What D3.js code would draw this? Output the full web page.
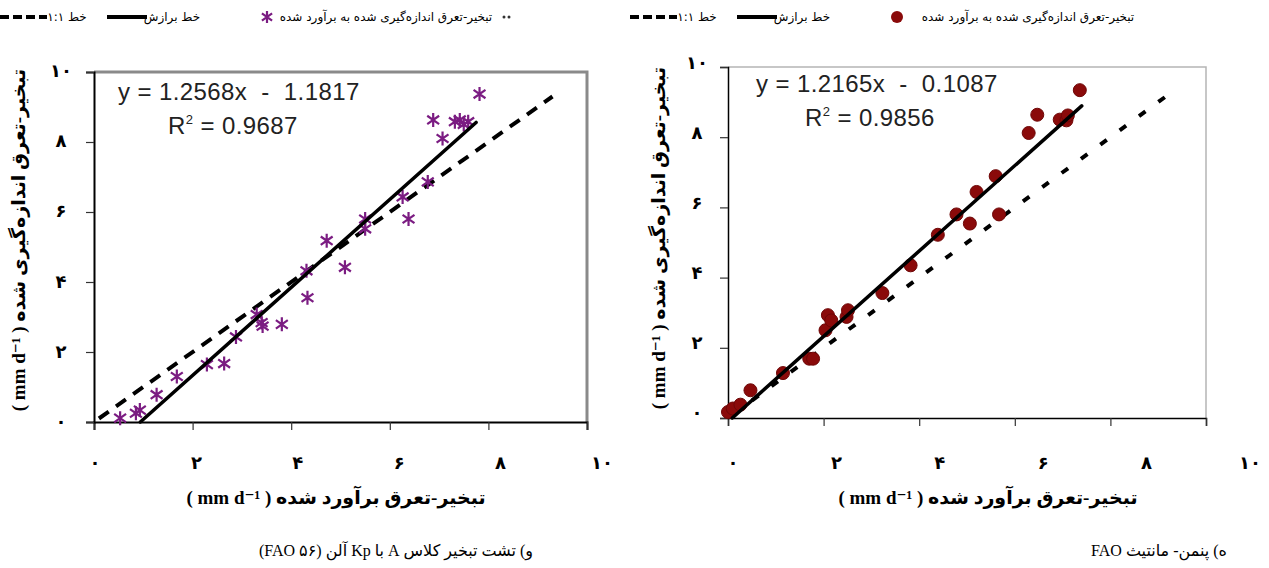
<!DOCTYPE html>
<html>
<head>
<meta charset="utf-8">
<script src="https://cdn.jsdelivr.net/npm/d3@7"></script>
<style>
  body { margin: 0; background: #fff; }
  svg { display: block; }
  .fa { font-family: "DejaVu Sans", sans-serif; }
  .eq { font-family: "Liberation Sans", Arial, sans-serif; fill: #222; }
</style>
</head>
<body>
<svg id="chart" width="1269" height="568"></svg>
<script>
// tick labels (Persian digits)
const tickVals   = [0, 2, 4, 6, 8, 10];
const tickLabels = ["۰", "۲", "۴", "۶", "۸", "۱۰"];

// panel (و) class A pan, Kp Allen : estimated vs measured
const panX = [0.53, 0.85, 0.93, 1.27, 1.68, 2.29, 2.64, 2.88, 3.30, 3.40, 3.42, 3.81, 4.31, 4.33,
              4.72, 5.09, 5.50, 5.50, 6.26, 6.38, 6.77, 6.88, 7.07, 7.32, 7.42, 7.50, 7.59, 7.82];
const panY = [0.11, 0.25, 0.34, 0.78, 1.30, 1.64, 1.67, 2.43, 3.07, 2.84, 2.74, 2.79, 4.32, 3.55,
              5.18, 4.42, 5.80, 5.52, 6.43, 5.80, 6.86, 8.63, 8.10, 8.58, 8.63, 8.50, 8.58, 9.37];
const panFit = { slope: 1.2568, icpt: -1.1817, r2: "0.9687", from: 0.94, to: 7.75 };
const panOne = [0.1, 9.3];

// panel (ه) FAO Penman-Monteith
const pmX = [0.00, 0.10, 0.26, 0.47, 1.15, 1.70, 1.78, 2.04, 2.09, 2.16, 2.48, 2.51, 3.23,
             3.82, 4.39, 4.78, 5.06, 5.20, 5.60, 5.67, 6.29, 6.47, 6.94, 7.08, 7.11, 7.36];
const pmY = [0.17, 0.27, 0.38, 0.79, 1.28, 1.69, 1.69, 2.50, 2.93, 2.78, 2.88, 3.07, 3.56,
             4.35, 5.22, 5.80, 5.54, 6.44, 6.89, 5.80, 8.12, 8.64, 8.50, 8.48, 8.62, 9.34];
const pmFit = { slope: 1.2165, icpt: -0.1087, r2: "0.9856", from: 0.09, to: 7.4 };
const pmOne = [0.1, 9.2];

const xTitle = "تبخیر-تعرق برآورد شده ( mm d⁻¹ )";
const yTitle = "تبخیر-تعرق اندازه‌گیری شده ( mm d⁻¹ )";
const legMeasured = "تبخیر-تعرق اندازه‌گیری شده به برآورد شده";
const legFit = "خط برازش";
const legOne = "خط ۱:۱";

const svg = d3.select("#chart");

function asterisk(g, cx, cy, r, color) {
  const d = `M${cx},${cy - r}L${cx},${cy + r}` +
            `M${cx - r * 0.85},${cy - r * 0.6}L${cx + r * 0.85},${cy + r * 0.6}` +
            `M${cx - r * 0.85},${cy + r * 0.6}L${cx + r * 0.85},${cy - r * 0.6}`;
  g.append("path").attr("d", d).attr("stroke", color).attr("stroke-width", 2.2).attr("fill", "none");
}

function panel(opt) {
  const x = d3.scaleLinear().domain([0, 10]).range(opt.xr);
  const y = d3.scaleLinear().domain([0, 10]).range(opt.yr);
  // label scales (labels in the picture sit a bit off the ticks)
  const xl = d3.scaleLinear().domain([0, 10]).range(opt.xlr);
  const yl = d3.scaleLinear().domain([0, 10]).range(opt.ylr);
  const g = svg.append("g");

  // frame top + right
  g.append("path")
    .attr("d", `M${x(0)},${y(10)}H${x(10)}V${y(0)}`)
    .attr("fill", "none").attr("stroke", opt.frameColor).attr("stroke-width", opt.frameWidth);

  const xa = g.append("g").attr("transform", `translate(0,${y(0)})`)
    .call(d3.axisBottom(x).tickValues(tickVals).tickFormat("").tickSizeOuter(0).tickSize(8));
  const ya = g.append("g").attr("transform", `translate(${x(0)},0)`)
    .call(d3.axisLeft(y).tickValues(tickVals).tickFormat("").tickSizeOuter(0).tickSize(opt.yTick));
  [xa, ya].forEach(a => {
    a.select(".domain").attr("stroke", "#000").attr("stroke-width", opt.axisWidth);
    a.selectAll(".tick line").attr("stroke", "#333").attr("stroke-width", 1.2);
  });

  g.selectAll(".xlab").data(tickVals).enter().append("text")
    .attr("class", "fa").attr("x", d => xl(d)).attr("y", 469)
    .attr("text-anchor", "middle").attr("font-size", 18).attr("font-weight", "bold")
    .text((d, i) => tickLabels[i]);
  g.selectAll(".ylab").data(tickVals).enter().append("text")
    .attr("class", "fa").attr("x", opt.ylx).attr("y", d => yl(d) + 7)
    .attr("text-anchor", "middle").attr("font-size", 18).attr("font-weight", "bold")
    .text((d, i) => tickLabels[i]);

  // 1:1 line
  g.append("line")
    .attr("x1", x(opt.one[0])).attr("y1", y(opt.one[0]))
    .attr("x2", x(opt.one[1])).attr("y2", y(opt.one[1]))
    .attr("stroke", "#000").attr("stroke-width", 4).attr("stroke-dasharray", opt.dash);

  // points
  const pts = g.append("g");
  opt.xs.forEach((v, i) => {
    if (opt.marker === "star") asterisk(pts, x(v), y(opt.ys[i]), 7, "#7b1c82");
    else pts.append("circle").attr("cx", x(v)).attr("cy", y(opt.ys[i])).attr("r", 6.5)
      .attr("fill", "#8a0a0a").attr("stroke", "#6e0606").attr("stroke-width", 1);
  });

  // fit line
  const f = opt.fit;
  g.append("line")
    .attr("x1", x(f.from)).attr("y1", y(f.slope * f.from + f.icpt))
    .attr("x2", x(f.to)).attr("y2", y(f.slope * f.to + f.icpt))
    .attr("stroke", "#000").attr("stroke-width", 3.5).attr("stroke-linecap", "round");

  // equation
  const sign = f.icpt < 0 ? "-" : "+";
  g.append("text").attr("class", "eq").attr("x", opt.eq[0]).attr("y", opt.eq[1])
    .attr("font-size", 24).attr("letter-spacing", 0.4).attr("xml:space", "preserve")
    .text(`y = ${f.slope}x  ${sign}  ${Math.abs(f.icpt).toFixed(4)}`);
  const r = g.append("text").attr("class", "eq").attr("x", opt.eq[2]).attr("y", opt.eq[3])
    .attr("font-size", 24).attr("letter-spacing", 0.4);
  r.append("tspan").text("R");
  r.append("tspan").attr("dy", -10).attr("font-size", 13).text("2");
  r.append("tspan").attr("dy", 10).text(` = ${f.r2}`);

  // axis titles
  g.append("text").attr("class", "fa").attr("x", opt.xtx).attr("y", 504)
    .attr("text-anchor", "middle").attr("font-size", 19).attr("font-weight", "bold")
    .attr("direction", "rtl")
    .style("font-family", '"Liberation Serif", "DejaVu Sans", serif')
    .text(xTitle);
  g.append("text")
    .attr("transform", `translate(${opt.ytx},${opt.yty}) rotate(-90)`)
    .attr("text-anchor", "middle").attr("font-size", 19).attr("font-weight", "bold")
    .attr("direction", "rtl")
    .style("font-family", '"Liberation Serif", "DejaVu Sans", serif')
    .text(yTitle);

  // caption
  g.append("text").attr("x", opt.cap[0]).attr("y", 556)
    .attr("text-anchor", "middle").attr("font-size", 16).attr("direction", "rtl")
    .style("font-family", '"Liberation Serif", "DejaVu Sans", serif')
    .text(opt.cap[1]);

  // legend
  const L = opt.leg, ly = 17;
  const lg = g.append("g");
  lg.append("line").attr("x1", L[0]).attr("x2", L[0] + 47).attr("y1", ly).attr("y2", ly)
    .attr("stroke", "#000").attr("stroke-width", 4).attr("stroke-dasharray", "9,4");
  lg.append("text").attr("class", "fa").attr("x", L[0] + 67).attr("y", ly + 4)
    .attr("text-anchor", "middle").attr("font-size", 12).attr("direction", "rtl").text(legOne);
  lg.append("line").attr("x1", L[0] + 107).attr("x2", L[0] + 147).attr("y1", ly).attr("y2", ly)
    .attr("stroke", "#000").attr("stroke-width", 4);
  lg.append("text").attr("class", "fa").attr("x", L[0] + 172).attr("y", ly + 4)
    .attr("text-anchor", "middle").attr("font-size", 12).attr("direction", "rtl").text(legFit);
  if (opt.marker === "star") asterisk(lg, L[0] + 267, ly, 6, "#7b1c82");
  else lg.append("circle").attr("cx", L[0] + 267).attr("cy", ly).attr("r", 6).attr("fill", "#8a0a0a");
  lg.append("text").attr("class", "fa").attr("x", L[1]).attr("y", ly + 4)
    .attr("text-anchor", "middle").attr("font-size", 12).attr("direction", "rtl").text(legMeasured);
  if (opt.marker === "star") {
    [504, 509].forEach(cx => lg.append("circle").attr("cx", cx).attr("cy", ly).attr("r", 1.5).attr("fill", "#333"));
  }
}

panel({
  xs: panX, ys: panY, fit: panFit, one: panOne, marker: "star",
  xr: [94, 587], yr: [422, 72], xlr: [95, 602], ylr: [421, 70], ylx: 61,
  frameColor: "#8a8a8a", frameWidth: 3, axisWidth: 2, yTick: 8, dash: "12,9",
  eq: [118, 100, 168, 134], xtx: 336, ytx: 25, yty: 240,
  cap: [396, "و) تشت تبخیر کلاس A با Kp آلن (FAO ۵۶)"],
  leg: [0, 386]
});

panel({
  xs: pmX, ys: pmY, fit: pmFit, one: pmOne, marker: "dot",
  xr: [728, 1206], yr: [418, 67], xlr: [733, 1250], ylr: [412, 62], ylx: 697,
  frameColor: "#b5b5b5", frameWidth: 1.5, axisWidth: 1.5, yTick: 8, dash: "8,16",
  eq: [756, 92, 805, 126], xtx: 988, ytx: 665, yty: 238,
  cap: [1159, "ه) پنمن- مانتیث FAO"],
  leg: [630, 1028]
});
</script>
</body>
</html>
